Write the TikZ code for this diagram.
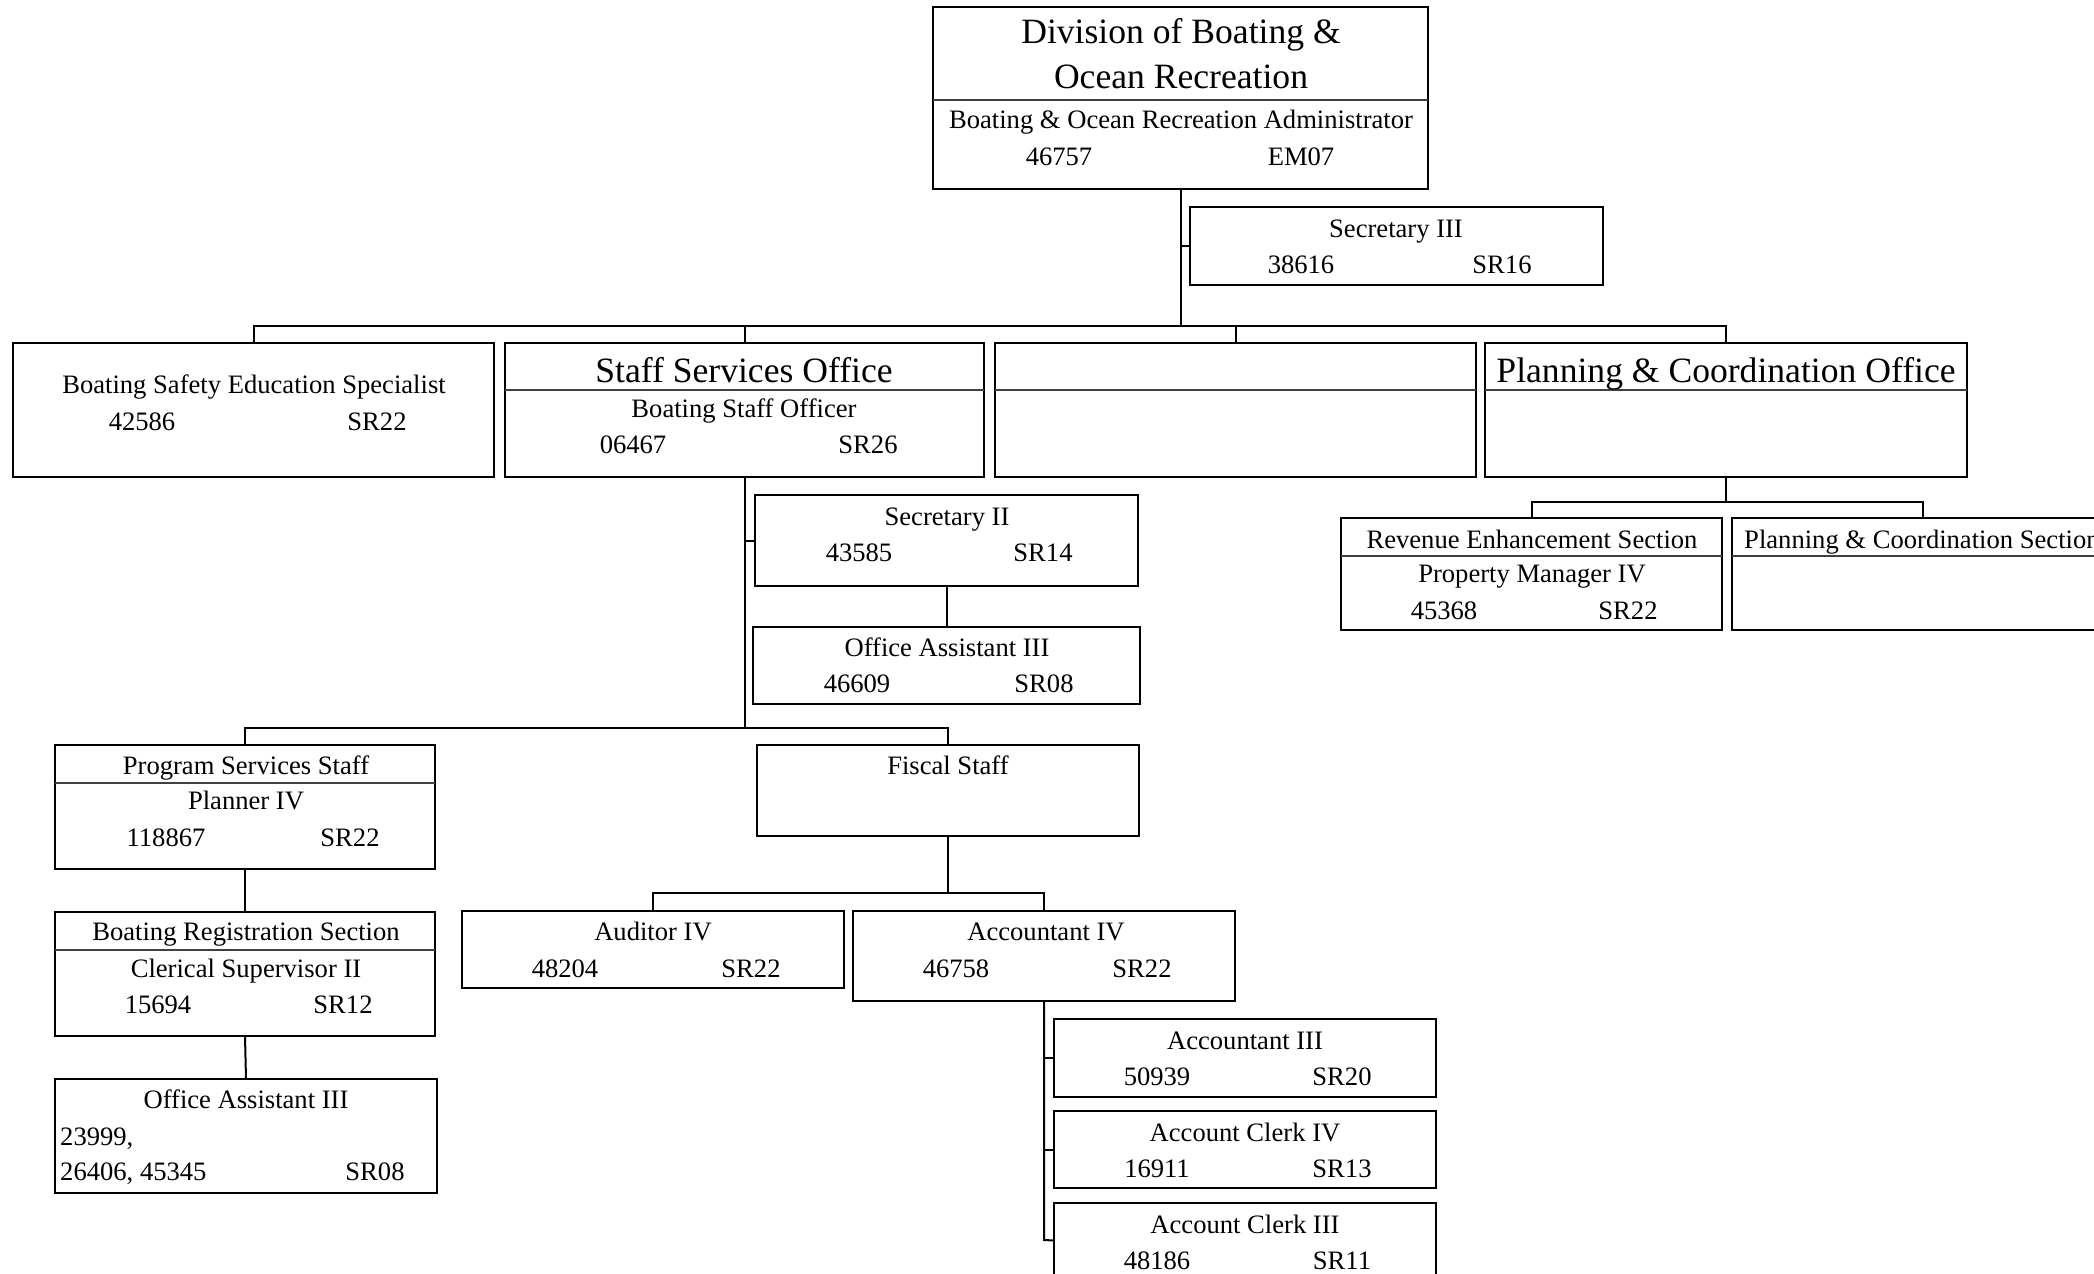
\documentclass[tikz,border=0pt]{standalone}
\usepackage{fontspec}
\setmainfont{Liberation Serif}
\tikzset{
  obox/.style={draw, line width=2.2pt, anchor=north west, inner sep=0pt, outer sep=0pt},
  divline/.style={line width=1.1pt, draw=black!75},
  conn/.style={line width=2pt},
  sm/.style={anchor=base, inner sep=0pt, font=\fontsize{26.6}{30}\selectfont},
  smL/.style={anchor=base west, inner sep=0pt, font=\fontsize{26.6}{30}\selectfont},
  lg/.style={anchor=base, inner sep=0pt, font=\fontsize{35.6}{40}\selectfont},
}
\newcommand\obx[5]{\node[obox, minimum width={(#4-#2)*1pt}, minimum height={(#5-#3)*1pt}] (#1) at (#2,#3) {};}
\begin{document}
\begin{tikzpicture}[x=1pt,y=-1pt]
\useasboundingbox (0,0) rectangle (2094,1274);
\clip (0,0) rectangle (2094,1274);
% boxes
\obx{T}{933}{7}{1428}{189}
\obx{S3}{1190}{207}{1603}{285}
\obx{A}{13}{343}{494}{477}
\obx{B}{505}{343}{984}{477}
\obx{C}{995}{343}{1476}{477}
\obx{D}{1485}{343}{1967}{477}
\obx{Rev}{1341}{518}{1722}{630}
\obx{PCS}{1732}{518}{2114}{630}
\obx{S2}{755}{495}{1138}{586}
\obx{OA1}{753}{627}{1140}{704}
\obx{PSS}{55}{745}{435}{869}
\obx{FS}{757}{745}{1139}{836}
\obx{BRS}{55}{912}{435}{1036}
\obx{OA2}{55}{1079}{437}{1193}
\obx{Aud}{462}{911}{844}{988}
\obx{Acc4}{853}{911}{1235}{1001}
\obx{Acc3}{1054}{1019}{1436}{1097}
\obx{AC4}{1054}{1111}{1436}{1188}
\obx{AC3}{1054}{1203}{1436}{1278}
% dividers
\draw[divline] (933,100) -- (1428,100);
\draw[divline] (505,390) -- (984,390);
\draw[divline] (995,390) -- (1476,390);
\draw[divline] (1485,390) -- (1967,390);
\draw[divline] (1341,556) -- (1722,556);
\draw[divline] (1732,556) -- (2114,556);
\draw[divline] (55,783) -- (435,783);
\draw[divline] (55,950) -- (435,950);
% junctions
\coordinate (j1) at (1180.5,326);
\coordinate (j2) at (744.5,728);
\coordinate (j3) at (948,893);
\coordinate (j4) at (1726,502);
\coordinate (j5) at (1044,1240);
% connectors
\draw[conn] (T.south) -- (j1);
\draw[conn] (S3.west) -- (S3.west -| T.south);
\draw[conn] (A.north) |- (j1) -| (D.north);
\draw[conn] (B.north) -- (B.north |- j1);
\draw[conn] (C.north) -- (C.north |- j1);
\draw[conn] (D.south) -- (j4);
\draw[conn] (Rev.north) |- (j4) -| (PCS.north);
\draw[conn] (B.south) -- (j2);
\draw[conn] (S2.west) -- (S2.west -| B.south);
\draw[conn] (S2.south) -- (OA1.north);
\draw[conn] (PSS.north) |- (j2) -| (FS.north);
\draw[conn] (PSS.south) -- (BRS.north);
\draw[conn] (BRS.south) -- (OA2.north);
\draw[conn] (FS.south) -- (j3);
\draw[conn] (Aud.north) |- (j3) -| (Acc4.north);
\draw[conn] (Acc4.south) -- (j5) -- (AC3.west);
\draw[conn] (Acc3.west) -- (Acc3.west -| Acc4.south);
\draw[conn] (AC4.west) -- (AC4.west -| Acc4.south);
% texts
\node[lg] (t1) at (1181,43) {Division of Boating \&};
\node[lg] (t2) at (1181,88) {Ocean Recreation};
\node[sm] (t3) at (1181,128) {Boating \& Ocean Recreation Administrator};
\node[sm] (t4) at (1059,165) {46757};
\node[sm] (t5) at (1301,165) {EM07};
\node[sm] (t6) at (1396,237) {Secretary III};
\node[sm] (t7) at (1301,273) {38616};
\node[sm] (t8) at (1502,273) {SR16};
\node[sm] (t9) at (254,393) {Boating Safety Education Specialist};
\node[sm] (t10) at (142,430) {42586};
\node[sm] (t11) at (377,430) {SR22};
\node[lg] (t12) at (744,382) {Staff Services Office};
\node[sm] (t13) at (744,417) {Boating Staff Officer};
\node[sm] (t14) at (633,453) {06467};
\node[sm] (t15) at (868,453) {SR26};
\node[lg] (t16) at (1726,382) {Planning \& Coordination Office};
\node[sm] (t17) at (1532,548) {Revenue Enhancement Section};
\node[sm] (t18) at (1532,582) {Property Manager IV};
\node[sm] (t19) at (1444,619) {45368};
\node[sm] (t20) at (1628,619) {SR22};
\node[smL] (t21) at (1744,548) {Planning \& Coordination Section};
\node[sm] (t22) at (947,525) {Secretary II};
\node[sm] (t23) at (859,561) {43585};
\node[sm] (t24) at (1043,561) {SR14};
\node[sm] (t25) at (947,656) {Office Assistant III};
\node[sm] (t26) at (857,692) {46609};
\node[sm] (t27) at (1044,692) {SR08};
\node[sm] (t28) at (246,774) {Program Services Staff};
\node[sm] (t29) at (246,809) {Planner IV};
\node[sm] (t30) at (166,846) {118867};
\node[sm] (t31) at (350,846) {SR22};
\node[sm] (t32) at (948,774) {Fiscal Staff};
\node[sm] (t33) at (246,940) {Boating Registration Section};
\node[sm] (t34) at (246,977) {Clerical Supervisor II};
\node[sm] (t35) at (158,1013) {15694};
\node[sm] (t36) at (343,1013) {SR12};
\node[sm] (t37) at (246,1108) {Office Assistant III};
\node[smL] (t38) at (60,1145) {23999,};
\node[smL] (t39) at (60,1180) {26406, 45345};
\node[sm] (t40) at (375,1180) {SR08};
\node[sm] (t41) at (653,940) {Auditor IV};
\node[sm] (t42) at (565,977) {48204};
\node[sm] (t43) at (751,977) {SR22};
\node[sm] (t44) at (1046,940) {Accountant IV};
\node[sm] (t45) at (956,977) {46758};
\node[sm] (t46) at (1142,977) {SR22};
\node[sm] (t47) at (1245,1049) {Accountant III};
\node[sm] (t48) at (1157,1085) {50939};
\node[sm] (t49) at (1342,1085) {SR20};
\node[sm] (t50) at (1245,1141) {Account Clerk IV};
\node[sm] (t51) at (1157,1177) {16911};
\node[sm] (t52) at (1342,1177) {SR13};
\node[sm] (t53) at (1245,1233) {Account Clerk III};
\node[sm] (t54) at (1157,1269) {48186};
\node[sm] (t55) at (1342,1269) {SR11};
\end{tikzpicture}
\end{document}
